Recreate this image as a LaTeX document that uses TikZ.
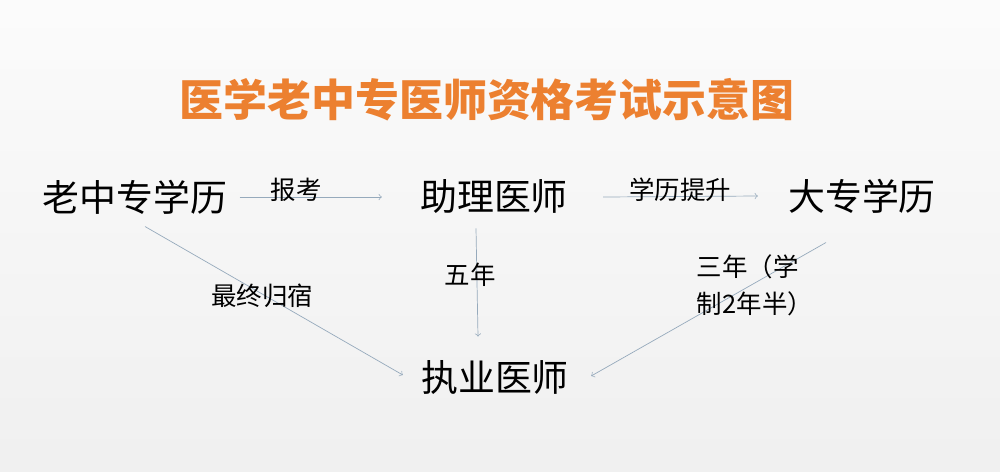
\documentclass[tikz,border=0pt]{standalone}
\usepackage{fontspec}
\setmainfont{Noto Sans CJK SC}
\usepackage{tikz}
\definecolor{titleorange}{RGB}{236,128,48}
\definecolor{linecol}{RGB}{150,170,188}
\tikzstyle{arrow}     = [thin,linecol,->]
\tikzstyle{big}       = [inner sep=0pt,font=\fontsize{21pt}{25pt}\selectfont]
\tikzstyle{small}     = [inner sep=0pt,font=\fontsize{14.5pt}{21pt}\selectfont]

\begin{document}
\begin{tikzpicture}[x=0.02cm,y=-0.02cm]
          \shade[top color=gray!3,bottom color=gray!12](0,0)rectangle(1000,471);
          \node[titleorange,font=\fontsize{25pt}{30pt}\selectfont\bfseries](t)at(487,100){医学老中专医师资格考试示意图};
          \node[black,big](a)at(135,197){老中专学历};
          \node[black,big](b)at(494,197){助理医师};
          \node[black,big](c)at(862,196){大专学历};
          \node[black,big](d)at(495,378){执业医师};
          \draw[arrow]([shift={(12,0)}]a.east)--([shift={(-38,0)}]b.west);
          \draw[arrow]([shift={(35,0)}]b.east)--([shift={(-30,0)}]c.west);
          \draw[arrow]([shift={(-18,14)}]b.south)--([shift={(-17,-24)}]d.north);
          \draw[arrow]([shift={(10,12)}]a.south)--([shift={(-18,-3)}]d.west);
          \draw[arrow]([shift={(-36,29)}]c.south)--([shift={(22,-2)}]d.east);
          \node[black,small](l1)at(296,190){报考};
          \node[black,small](l2)at(680,190){学历提升};
          \node[black,small](l3)at(470,275){五年};
          \node[black,small](l4)at(262,296){最终归宿};
          \node[black,small,align=left](l5)at(755,285){三年（学\\制2年半）};
      \end{tikzpicture}
\end{document}
